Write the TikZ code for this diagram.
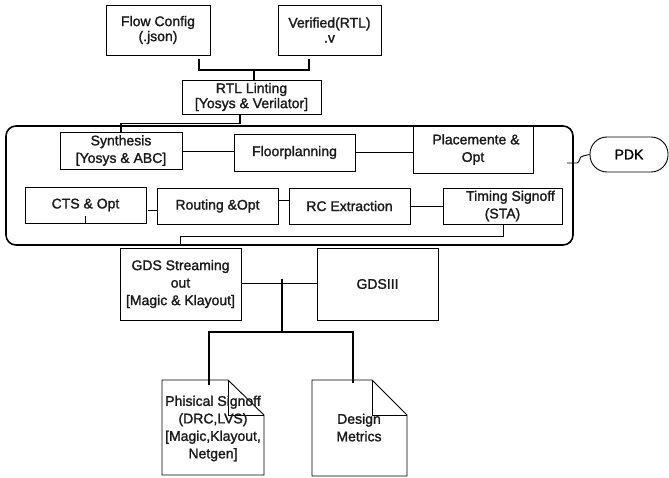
\documentclass[tikz,border=0pt]{standalone}
\usepackage{fontspec}
\setmainfont[FakeBold=1.5]{Liberation Sans}
\usetikzlibrary{calc}
\newcommand{\fsA}{\fontsize{14}{17.5}\selectfont}
\newcommand{\fsB}{\fontsize{14}{15}\selectfont}
\tikzset{
  box/.style={draw, line width=0.9pt, inner sep=0pt, align=center, font=\fsA, text=black!90},
  topbox/.style={box, font=\fsB},
  conn/.style={line width=0.9pt},
  thickconn/.style={line width=2.6pt},
  doc/.style={line width=0.9pt, line join=miter},
  lbl/.style={inner sep=0pt, align=center, font=\fsA, text=black!90}
}
\begin{document}
\begin{tikzpicture}[x=1pt,y=-1pt]
\useasboundingbox (0,0) rectangle (669,478);
% top inputs
\node[topbox, minimum width=104pt, minimum height=50pt] (fc) at (158,30) {Flow Config\\(.json)};
\node[topbox, minimum width=103pt, minimum height=50pt] (ver) at (329.5,30) {Verified(RTL)\\.v};
\node[topbox, minimum width=139pt, minimum height=34pt] (rtl) at (251.5,97) {RTL Linting\\{[}Yosys \& Verilator{]}};
% flow frame
\node[draw, line width=1.6pt, rounded corners=10pt, minimum width=567pt, minimum height=119pt, inner sep=0pt] (flow) at (289.5,185.5) {};
\node[box, minimum width=122pt, minimum height=37pt] (syn) at (121,150.5) {Synthesis\\{[}Yosys \& ABC{]}};
\node[box, minimum width=121pt, minimum height=37pt] (flp) at (294.5,152.5) {Floorplanning};
\node[box, minimum width=120pt, minimum height=47pt] (plc) at (473,149.5) {\hspace*{6pt}Placemente \&\\Opt};
\node[box, minimum width=121pt, minimum height=36pt] (cts) at (85.5,205) {CTS \& Opt};
\node[box, minimum width=121pt, minimum height=36pt] (rou) at (217.5,206) {Routing \&Opt};
\node[box, minimum width=121pt, minimum height=36pt] (rc) at (349.5,206) {RC Extraction};
\node[box, minimum width=119pt, minimum height=36pt] (tim) at (502.5,206) {\hspace*{16pt}Timing Signoff\\(STA)};
% PDK
\node[draw, line width=0.9pt, rounded corners=17pt, minimum width=78pt, minimum height=35pt, inner sep=0pt, font=\fsA] (pdk) at (629,154.5) {PDK};
% outputs
\node[box, minimum width=121pt, minimum height=72pt] (gds) at (180.5,284) {GDS Streaming\\out\\{[}Magic \& Klayout{]}};
\node[box, minimum width=121pt, minimum height=72pt] (gds3) at (377.5,284) {GDSIII};
% documents
\draw[doc] (162,380) -- (228,380) -- (264,415) -- (264,475) -- (162,475) -- cycle;
\draw[doc] (228,380) -- (228,415) -- (264,415);
\node[lbl] (doc1) at (213,428.5) {Phisical Signoff\\(DRC,LVS)\\{[}Magic,Klayout,\\Netgen{]}};
\draw[doc] (312,380) -- (372,380) -- (407,415) -- (407,476) -- (312,476) -- cycle;
\draw[doc] (372,380) -- (372,415) -- (407,415);
\node[lbl] (doc2) at (359,427.5) {Design\\Metrics};
% connectors top
\draw[thickconn] (199,59) -- (199,70) -- (309,70) -- (309,59);
\draw[thickconn, line width=1.8pt] (254,70) -- (rtl.north -| 254,0);
\draw[conn, line width=1.8pt] (rtl.south -| 240,0) -- (240,123.5) -- (121,123.5) -- (syn.north -| 121,0);
% connectors inside frame
\draw[conn] (syn.east |- 0,151) -- (flp.west |- 0,151);
\draw[conn] (flp.east |- 0,152) -- (plc.west |- 0,152);
\draw[conn] (148,210) -- (rou.west |- 0,210);
\draw[conn] (rou.east |- 0,200) -- (rc.west |- 0,200);
\draw[conn] (rc.east |- 0,206) -- (tim.west |- 0,206);
\draw[conn] (85,216) -- (cts.south -| 85,0);
\draw[conn] (tim.south -| 503,0) -- (503,236) -- (180,236) -- (180,245);
\draw[line width=2.6pt] (117,245) -- (438,245);
% PDK link
\draw[conn] (567,163) -- (577,163) .. controls (580,163) and (579,156) .. (583,156) -- (pdk.west);
% output connectors
\draw[conn] (gds.east |- 0,283) -- (gds3.west |- 0,283);
\draw[thickconn] (282,279) -- (282,332);
\draw[thickconn] (209,332) -- (353,332);
\draw[thickconn] (209,331) -- (209,385);
\draw[thickconn] (353,331) -- (353,383);
\end{tikzpicture}
\end{document}
